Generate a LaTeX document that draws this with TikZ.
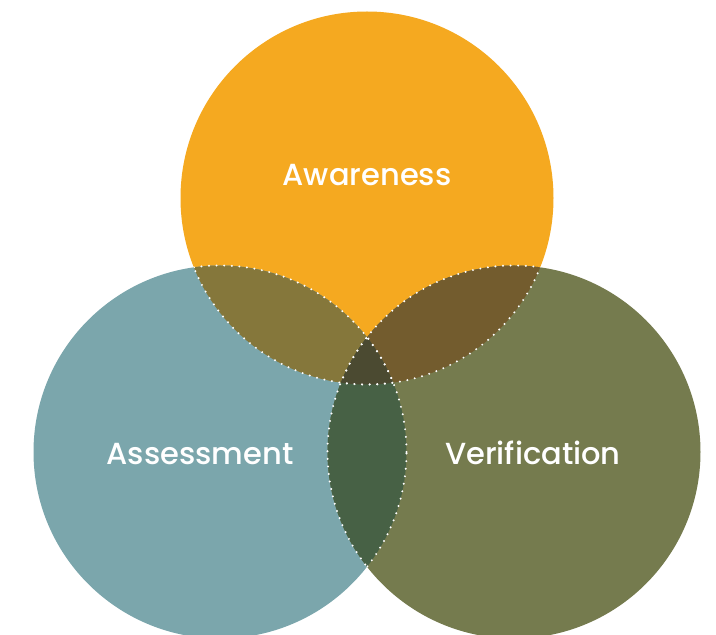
\documentclass[tikz,border=0pt]{standalone}
\usepackage{fontspec}
\setmainfont{Poppins Medium}
\usepackage{xcolor}

\definecolor{awareorange}{RGB}{245,169,32}
\definecolor{assessteal}{RGB}{123,166,172}
\definecolor{verifyolive}{RGB}{117,123,78}
\definecolor{awareassess}{RGB}{133,119,59}
\definecolor{awareverify}{RGB}{115,92,46}
\definecolor{assessverify}{RGB}{71,97,69}
\definecolor{allthree}{RGB}{75,74,49}

\begin{document}
\begin{tikzpicture}[x=1pt,y=1pt,
  lbl/.style={text=white, anchor=base, font=\fontsize{30.5}{34}\selectfont},
  seam/.style={white, line width=2.2pt, line cap=round, dash pattern=on 0pt off 7.6pt}]

\pgfmathsetmacro{\rad}{186.5}

\clip (0,0) rectangle (716,635);

\coordinate (aw) at (367,437);
\coordinate (as) at (220,183);
\coordinate (ve) at (514,183);

% Base discs
\fill[awareorange] (aw) circle (\rad);
\fill[assessteal] (as) circle (\rad);
\fill[verifyolive] (ve) circle (\rad);

% Pairwise overlaps
\begin{scope}
  \clip (as) circle (\rad);
  \fill[awareassess] (aw) circle (\rad);
\end{scope}
\begin{scope}
  \clip (ve) circle (\rad);
  \fill[awareverify] (aw) circle (\rad);
\end{scope}
\begin{scope}
  \clip (as) circle (\rad);
  \fill[assessverify] (ve) circle (\rad);
\end{scope}

% Middle piece, inside all three
\begin{scope}
  \clip (as) circle (\rad);
  \clip (ve) circle (\rad);
  \fill[allthree] (aw) circle (\rad);
\end{scope}

% Dotted seams: each rim only where it runs inside another disc
\foreach \a/\b in {aw/as, aw/ve, as/aw, as/ve, ve/aw, ve/as}{
  \begin{scope}
    \clip (\b) circle (\rad);
    \draw[seam] (\a) circle (\rad);
  \end{scope}
}

% Labels
\node[lbl] (awlabel) at (367,449) {Awareness};
\node[lbl] (aslabel) at (200,170) {Assessment};
\node[lbl] (velabel) at (533,170) {Verification};

\end{tikzpicture}
\end{document}
